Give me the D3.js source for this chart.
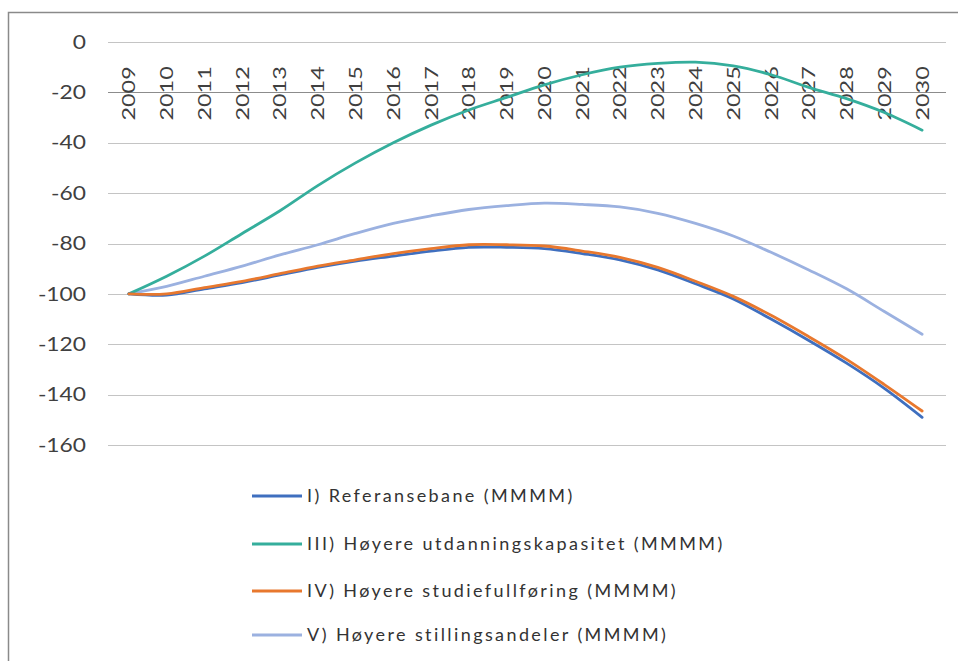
<!DOCTYPE html>
<html><head><meta charset="utf-8">
<script src="https://cdn.jsdelivr.net/npm/d3@7"></script>
<style>body{margin:0;background:#fff}svg{display:block}</style>
</head><body>
<svg id="c" width="958" height="661"></svg>
<script>
const years = ["2009","2010","2011","2012","2013","2014","2015","2016","2017","2018","2019","2020","2021","2022","2023","2024","2025","2026","2027","2028","2029","2030"];
const yTicks = [0,-20,-40,-60,-80,-100,-120,-140,-160];
const seriesNames = ["I) Referansebane (MMMM)","III) Høyere utdanningskapasitet (MMMM)","IV) Høyere studiefullføring (MMMM)","V) Høyere stillingsandeler (MMMM)"];
const seriesColors = ["#3F6FBF","#35AE9C","#E8782E","#9BB1E0"];
const refBane = [-100,-100.5,-98,-95.5,-92.5,-89.5,-87,-85,-83,-81.5,-81.5,-82,-84,-86.5,-90.5,-96,-102,-110,-118.5,-127.5,-137.5,-149];
const utdKap = [-100,-93,-85,-76,-67,-57,-48,-40,-33,-27,-22,-17,-13,-10,-8.5,-8,-9.5,-13,-18,-22.5,-28,-35];
const studFull = [-100,-100,-97.5,-95,-92,-89,-86.5,-84,-82,-80.5,-80.5,-81,-83,-85.5,-89.5,-95,-101,-108.5,-117,-126,-136,-146.5];
const stilling = [-100,-97,-93,-89,-84.5,-80.5,-76,-72,-69,-66.5,-65,-64,-64.5,-65.5,-68,-72,-77,-83.5,-90.5,-98,-107,-116];
const seriesValues = [refBane, utdKap, studFull, stilling];

const svg = d3.select("#c");
const x = d3.scaleBand().domain(years).range([110, 941]).padding(0);
const y = d3.scaleLinear().domain([-160, 0]).range([445, 42]);
const font = "Lato, 'Open Sans', sans-serif";
const cx = d => x(d) + x.bandwidth() / 2;

// frame
svg.append("rect").attr("x", 8.5).attr("y", 12.5).attr("width", 1000).attr("height", 1000)
  .attr("fill", "none").attr("stroke", "#8a8a8a").attr("stroke-width", 1.5);

// gridlines
svg.append("g").selectAll("line").data(yTicks).join("line")
  .attr("x1", 108).attr("x2", 946)
  .attr("y1", d => Math.round(y(d)) + 0.5).attr("y2", d => Math.round(y(d)) + 0.5)
  .attr("stroke", d => d === -20 ? "#8c8c8c" : "#c4c4c4").attr("stroke-width", 1.2);

// y labels
svg.append("g").selectAll("text").data(yTicks).join("text")
  .attr("transform", d => `translate(86,${y(d)}) scale(1.2,1)`)
  .attr("dy", "0.35em")
  .attr("text-anchor", "end").attr("font-family", font).attr("font-size", 19)
  .attr("fill", "#404040").text(d => d);

// x labels (rotated, centred on the -20 line)
svg.append("g").selectAll("text").data(years).join("text")
  .attr("transform", d => `translate(${cx(d) + 6.5},${y(-20) + 1}) rotate(-90) scale(1.3,1)`)
  .attr("text-anchor", "middle").attr("font-family", font).attr("font-size", 18)
  .attr("fill", "#404040").text(d => d);

// lines
const line = d3.line()
  .x((d, i) => cx(years[i]))
  .y(d => y(d))
  .curve(d3.curveCatmullRom.alpha(0.5));
const drawOrder = [3, 1, 0, 2];
svg.append("g").selectAll("path").data(drawOrder).join("path")
  .attr("d", i => line(seriesValues[i]))
  .attr("fill", "none").attr("stroke", i => seriesColors[i])
  .attr("stroke-width", 2.8).attr("stroke-linecap", "round");

// legend
const legY = [496, 544, 591, 635];
const leg = svg.append("g").selectAll("g").data(seriesNames).join("g")
  .attr("transform", (d, i) => `translate(252,${legY[i]})`);
leg.append("line").attr("x1", 0).attr("x2", 50).attr("y1", 0).attr("y2", 0)
  .attr("stroke", (d, i) => seriesColors[i]).attr("stroke-width", 2.8);
leg.append("text").attr("x", 55).attr("dy", "0.35em")
  .attr("font-family", font).attr("font-size", 18).attr("letter-spacing", 2.4)
  .attr("fill", "#333").text(d => d);
</script>
</body></html>
